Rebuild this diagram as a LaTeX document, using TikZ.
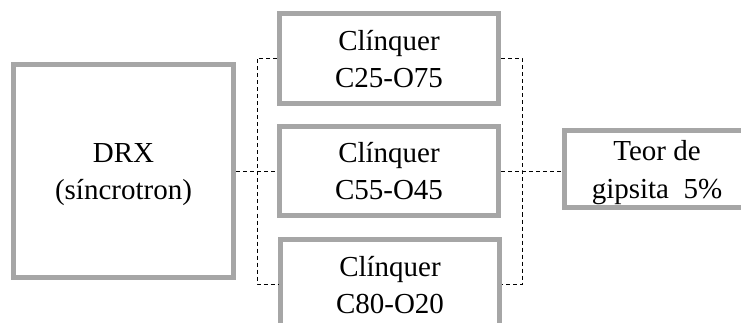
\documentclass[tikz,border=0pt]{standalone}
\usepackage{fontspec}
\setmainfont{Liberation Serif}
\definecolor{boxgray}{RGB}{166,166,166}

\begin{document}
\begin{tikzpicture}[x=1pt, y=-1pt,
    box/.style={rectangle, draw=boxgray, line width=5pt, fill=white, align=center, inner sep=0pt,
      text height=62pt, text depth=4pt, font=\fontsize{29}{37}\selectfont},
    link/.style={draw, line width=0.9pt, dash pattern=on 4pt off 3pt}]
  \path[use as bounding box, clip] (0, 0) rectangle (741, 323);

  \node (drx) [box, minimum width=220pt, minimum height=213pt] at (123.5, 171) {DRX\\(síncrotron)};
  \node (c1) [box, minimum width=219pt, minimum height=90pt] at (389, 58.5) {Clínquer\\C25-O75};
  \node (c2) [box, minimum width=219pt, minimum height=89pt] at (389, 171) {Clínquer\\C55-O45};
  \node (c3) [box, minimum width=219pt, minimum height=89pt] at (390, 284) {Clínquer\\C80-O20};
  \node (teor) [box, minimum width=185pt, minimum height=77pt] at (657, 169) {Teor de\\gipsita\ \ 5\%};

  \coordinate (jl) at (257, 171);
  \coordinate (jr) at (522, 171);
  \draw[link] (drx.east) -- (c2.west);
  \draw[link] (c1.west) -| (jl) |- (c3.west);
  \draw[link] (c1.east) -| (jr) |- (c3.east);
  \draw[link] (c2.east) -- (c2.east -| teor.west);
\end{tikzpicture}
\end{document}
